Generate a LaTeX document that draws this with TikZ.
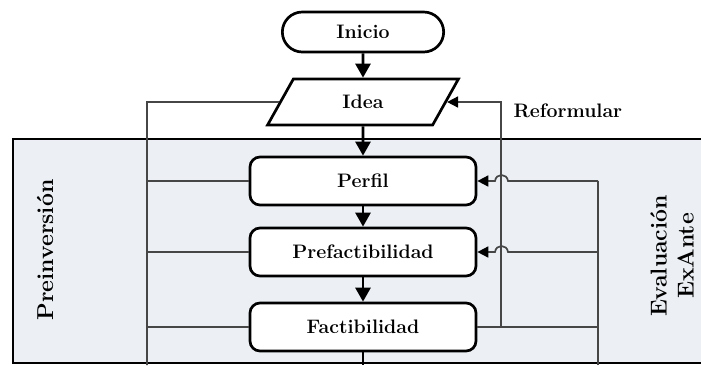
\documentclass[tikz,border=0pt]{standalone}
\usetikzlibrary{shapes.misc,shapes.geometric,arrows.meta}
\definecolor{panel}{RGB}{236,240,245}
\definecolor{conn}{RGB}{70,70,70}
\tikzset{
  boxtxt/.style={font=\fontsize{19.5}{23}\selectfont\bfseries},
  stadium/.style={rounded rectangle, draw=black, line width=2.7pt, fill=white, minimum width=168pt, minimum height=40pt, boxtxt},
  ioshape/.style={trapezium, trapezium left angle=66.5, trapezium right angle=113.5, trapezium stretches=true, draw=black, line width=2.7pt, fill=white, minimum width=191pt, minimum height=46pt, boxtxt},
  procbox/.style={rectangle, rounded corners=10pt, draw=black, line width=2.7pt, fill=white, minimum width=226pt, minimum height=48pt, boxtxt},
  flow/.style={line width=2.7pt, -{Triangle[length=14pt,width=15pt]}},
  link/.style={draw=conn, line width=1.7pt},
  linkarrow/.style={link, -{Triangle[length=11pt,width=11pt,color=black]}},
  sidetxt/.style={font=\fontsize{23}{27}\selectfont\bfseries, rotate=90, align=center},
}
\begin{document}
\begin{tikzpicture}[x=1pt,y=-1pt]
\useasboundingbox (0,0) rectangle (701,365);
% panel
\fill[panel] (13,139) rectangle (701,363);
\draw[line width=2.7pt] (701,139) -- (13,139) -- (13,363) -- (701,363);

% nodes
\node[stadium] (inicio) at (363,32) {Inicio};
\node[ioshape] (idea) at (363,102) {Idea};
\node[procbox] (perfil) at (363,181) {Perfil};
\node[procbox] (pref) at (363,252) {Prefactibilidad};
\node[procbox] (fact) at (363,327) {Factibilidad};

% side labels
\node[sidetxt] (preinv) at (45,250) {Preinversión};
\node[sidetxt] (evalu) at (672,256) {Evaluación\\ExAnte};
\node[boxtxt, anchor=west] (reform) at (510,111) {Reformular};

% coordinates
\coordinate (lt) at (147,102);
\coordinate (lb) at (147,365);
\coordinate (rt) at (501,102);
\coordinate (rb) at (501,327);
\coordinate (ft) at (598,181);
\coordinate (fm) at (598,252);
\coordinate (fr) at (598,327);
\coordinate (fb) at (598,365);
\coordinate (cb) at (363,365);

% left connectors
\draw[link] (lb) -- (lt) -- (idea.west);
\draw[link] (lt |- perfil.west) -- (perfil.west);
\draw[link] (lt |- pref.west) -- (pref.west);
\draw[link] (lt |- fact.west) -- (fact.west);

% right connectors
\draw[link] (fact.east) -- (fr);
\draw[linkarrow] (rb) -- (rt) -- (idea.east);
\draw[link] (fb) -- (ft);
\draw[linkarrow] (ft) -- (508,181) .. controls (507,173) and (496,173) .. (495,181) -- (perfil.east);
\draw[linkarrow] (fm) -- (508,252) .. controls (507,244) and (496,244) .. (495,252) -- (pref.east);

% main flow
\draw[flow] (inicio) -- (idea);
\draw[flow] (idea) -- (perfil);
\draw[flow] (perfil) -- (pref);
\draw[flow] (pref) -- (fact);
\draw[line width=2.7pt] (fact.south) -- (cb);
\end{tikzpicture}
\end{document}
